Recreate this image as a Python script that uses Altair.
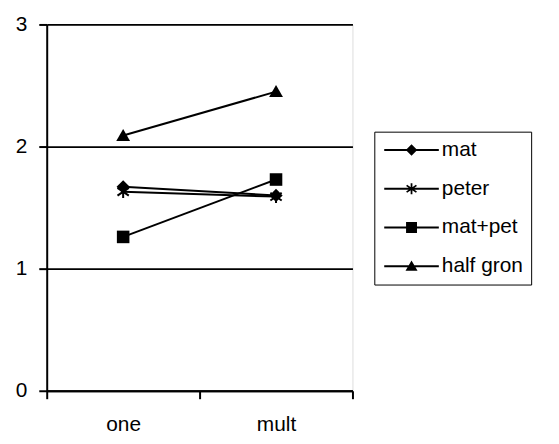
import altair as alt
import pandas as pd

categories = ["one", "mult"]
series = ["mat", "peter", "mat+pet", "half gron"]
mat = [1.67, 1.60]
peter = [1.63, 1.59]
mat_pet = [1.26, 1.73]
half_gron = [2.09, 2.45]

rows = []
for name, vals in zip(series, [mat, peter, mat_pet, half_gron]):
    for c, v in zip(categories, vals):
        rows.append({"cat": c, "series": name, "value": v})
df = pd.DataFrame(rows)

FONT = "Liberation Sans"


def poly(pts):
    return "M" + "L".join(f"{a:.3f},{b:.3f}" for a, b in pts) + "Z"


def bar(x1, y1, x2, y2, w):
    # thin filled bar from (x1,y1) to (x2,y2), half-width w, consistent winding
    dx, dy = x2 - x1, y2 - y1
    n = (dx * dx + dy * dy) ** 0.5
    px, py = -dy / n * w, dx / n * w
    pts = [(x1 - px, y1 - py), (x2 - px, y2 - py), (x2 + px, y2 + py), (x1 + px, y1 + py)]
    area = sum(pts[i][0] * pts[(i + 1) % 4][1] - pts[(i + 1) % 4][0] * pts[i][1] for i in range(4))
    if area < 0:
        pts = pts[::-1]
    return poly(pts)


m_diamond = poly([(0, -1.05), (1.05, 0), (0, 1.05), (-1.05, 0)])
m_star = bar(0, -1, 0, 1, 0.16) + bar(-0.9, -0.62, 0.9, 0.62, 0.16) + bar(0.9, -0.62, -0.9, 0.62, 0.16)
m_square = poly([(-1, -1), (1, -1), (1, 1), (-1, 1)])
m_tri = poly([(0, -1.05), (1.1, 0.85), (-1.1, 0.85)])
plot_shapes = [m_diamond, m_star, m_square, m_tri]
legend_line = bar(-5, 0, 5, 0, 0.18)
legend_shapes = [legend_line + p for p in plot_shapes]

x = alt.X(
    "cat:N", sort=categories, title=None,
    scale=alt.Scale(type="band", paddingInner=0, paddingOuter=0),
    axis=alt.Axis(tickBand="extent", labelAngle=0, tickSize=8, tickWidth=2,
                  tickColor="black", domainColor="black", domainWidth=2,
                  labelFontSize=21, labelFont=FONT, labelColor="black",
                  labelPadding=15, grid=False),
)
y = alt.Y(
    "value:Q", title=None, scale=alt.Scale(domain=[0, 3], nice=False),
    axis=alt.Axis(values=[0, 1, 2, 3], format="d", tickSize=8, tickWidth=2,
                  tickColor="black", domainColor="black", domainWidth=2,
                  labelFontSize=21, labelFont=FONT, labelColor="black",
                  labelPadding=12, grid=True, gridColor="black", gridWidth=1.8),
)

base = alt.Chart(df)

lines = base.mark_line(color="black", strokeWidth=2).encode(
    x=x, y=y, detail="series:N"
)

points = base.mark_point(filled=True, fill="black", opacity=1, size=160).encode(
    x=x, y=y,
    shape=alt.Shape("series:N", scale=alt.Scale(domain=series, range=plot_shapes),
                    legend=None),
)

legend_layer = base.mark_point(filled=True, fill="black", opacity=0, size=30).encode(
    x=x, y=y,
    shape=alt.Shape(
        "series:N",
        scale=alt.Scale(domain=series, range=legend_shapes),
        legend=alt.Legend(
            orient="none", legendX=330, legendY=108, title=None,
            strokeColor="black", fillColor="white", padding=8,
            symbolSize=121, symbolFillColor="black", symbolOpacity=1,
            symbolStrokeWidth=0, symbolOffset=19,
            labelOffset=20, labelFont=FONT, labelFontSize=21,
            labelColor="black", rowPadding=17,
        ),
    ),
)

chart = (
    alt.layer(lines, points, legend_layer)
    .resolve_scale(shape="independent")
    .properties(width=308, height=369,
                autosize=alt.AutoSizeParams(type="none"),
                padding={"left": 39, "top": 15, "right": 200, "bottom": 44})
    .configure_view(stroke="black", strokeWidth=2)
    .configure_legend(strokeWidth=2)
    .configure(background="white")
)

chart.save("out.html", embed_options={"renderer": "svg", "actions": False})
